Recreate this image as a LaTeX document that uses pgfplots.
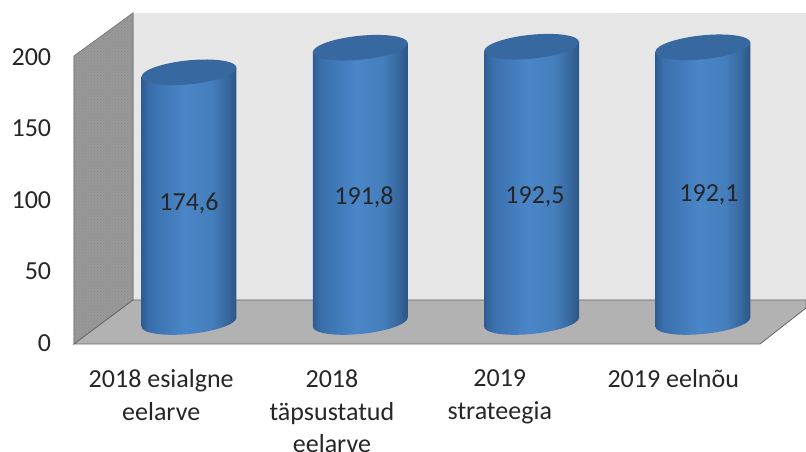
\documentclass[border=0pt]{standalone}
\usepackage{fontspec}
\setmainfont{Carlito}
\usepackage{pgfplots}
\usepackage{pgfplotstable}
\usetikzlibrary{patterns}
\pgfplotsset{compat=1.18}
\pgfplotstableread{
pos value
0 174.6
1 191.8
2 192.5
3 192.1
}\cyldata
\pgfplotstableread{
pos y label
0.000 83.2 {174,6}
1.0216 87.4 {191,8}
2.0199 87.4 {192,5}
3.0356 88.8 {192,1}
}\labeldata
\definecolor{backw}{HTML}{E6E6E6}
\definecolor{backd}{HTML}{EFEFEF}
\definecolor{sidew}{HTML}{999999}
\definecolor{sided}{HTML}{8A8A8A}
\definecolor{floorw}{HTML}{B2B2B2}
\definecolor{topc}{HTML}{37689F}
\definecolor{cA}{HTML}{2E5C92}
\definecolor{cB}{HTML}{3A6FAC}
\definecolor{cC}{HTML}{4A86C8}
\definecolor{cD}{HTML}{447EBC}
\definecolor{cE}{HTML}{37689F}
\definecolor{cF}{HTML}{2C5584}
\definecolor{txt}{HTML}{262626}
\pgfdeclarehorizontalshading{cylsh}{100bp}{
color(0bp)=(cA);
color(25bp)=(cA);
color(29bp)=(cB);
color(48bp)=(cC);
color(62bp)=(cD);
color(70bp)=(cE);
color(75bp)=(cF);
color(100bp)=(cF)}
\pgfdeclareplotmark{cyl}{%
  \pgfscope
  \pgftransformcm{1}{0.095}{0}{1}{\pgfpointorigin}%
  \pgfpathmoveto{\pgfqpoint{-47.5pt}{0pt}}%
  \pgfpathlineto{\pgfpoint{-47.5pt}{-\cylH pt}}%
  \pgfpatharc{180}{360}{47.5pt and 12pt}%
  \pgfpathlineto{\pgfqpoint{47.5pt}{0pt}}%
  \pgfpathclose
  \pgfshadepath{cylsh}{0}%
  \pgfusepath{discard}%
  \pgfsetfillcolor{topc}%
  \pgfpathellipse{\pgfpointorigin}{\pgfqpoint{47.5pt}{0pt}}{\pgfqpoint{0pt}{12pt}}%
  \pgfusepath{fill}%
  \endpgfscope
}
\begin{document}
\fontsize{26}{32.5}\selectfont
\begin{tikzpicture}[x=1pt,y=1pt]
\useasboundingbox (0,0) rectangle (806,452);
% walls, in picture pixels
\begin{axis}[at={(74pt,108pt)},anchor=south west,width=732pt,height=344pt,scale only axis,
  xmin=74,xmax=806,ymin=108,ymax=452,hide axis,clip=false]
\addplot[fill=backw,draw=none,postaction={pattern=dots,pattern color=backd}] coordinates {(133,152) (806,152) (806,439) (133,439)} -- cycle;
\addplot[fill=sidew,draw=gray,line width=0.6pt,postaction={pattern=crosshatch dots,pattern color=sided}] coordinates {(74,396) (133,439) (133,152) (74,108)} -- cycle;
\addplot[fill=floorw,draw=gray!80!black,line width=0.8pt] coordinates {(74,108) (133,152) (806,152) (806,144) (760,108)} -- cycle;
\end{axis}
% ticks and their labels
\begin{axis}[at={(74pt,108pt)},anchor=south west,width=732pt,height=344pt,scale only axis,
  xmin=-0.509,xmax=3.765,ymin=0,ymax=240.6,
  axis line style={draw=none},tick style={draw=none},
  ytick={0,50,100,150,200},xtick={0,0.997,1.977,2.99},
  xticklabels={2018 esialgne\\eelarve,2018\\täpsustatud\\eelarve,2019\\strateegia,2019 eelnõu},
  xticklabel style={align=center,text depth=0pt,yshift=-17pt,text=txt,font=\fontsize{26}{32.5}\selectfont},
  yticklabel style={font=\fontsize{26}{32.5}\selectfont,xshift=-14pt,yshift=1pt,text=txt},
  /pgf/number format/assume math mode=true]
\addplot[draw=none] coordinates {(0,0)};
\end{axis}
% cylinders and value labels
\begin{axis}[at={(74pt,108pt)},anchor=south west,width=732pt,height=344pt,scale only axis,
  xmin=-0.6713,xmax=3.602,ymin=-15.38,ymax=225.17,hide axis,clip=false]
\addplot[scatter,only marks,mark=cyl,
  visualization depends on={rawy*1.43 \as \cylH}] table[x=pos,y=value] {\cyldata};
\addplot[only marks,mark=none,nodes near coords,point meta=explicit symbolic,
  nodes near coords align={center},
  every node near coord/.append style={font=\fontsize{26}{32.5}\selectfont,text=txt,anchor=center}]
  table[x=pos,y=y,meta=label] {\labeldata};
\end{axis}
\end{tikzpicture}
\end{document}
